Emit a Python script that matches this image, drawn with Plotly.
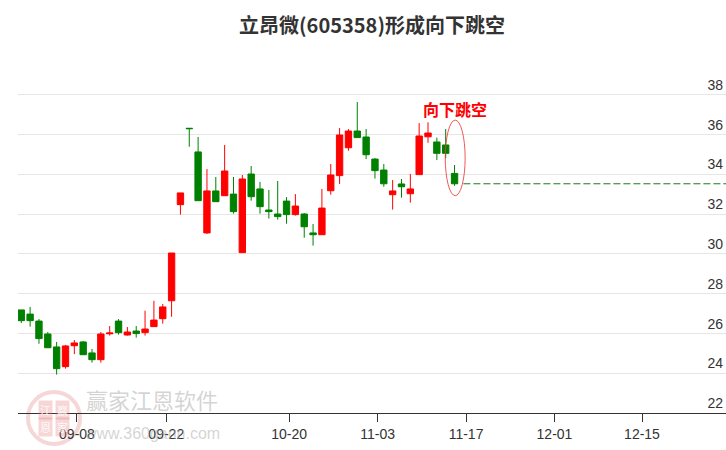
import plotly.graph_objects as go

# ---- data ----
open_ = [27.18, 26.97, 26.62, 25.97, 25.32, 24.33, 25.38, 25.57, 25.02, 24.68,
         25.98, 26.62, 25.92, 26.12, 26.04, 26.34, 26.74, 27.64, 32.47, 36.31,
         35.12, 31.05, 33.16, 32.92, 33.00, 30.06, 34.01, 33.26, 32.20, 32.00,
         32.65, 31.97, 32.00, 31.05, 30.96, 33.17, 33.93, 35.33, 36.17, 35.87,
         34.76, 34.21, 32.97, 33.51, 33.02, 33.98, 35.88, 35.62, 35.47, 34.04]
high = [27.18, 27.33, 26.72, 26.07, 25.57, 25.42, 25.67, 25.62, 25.22, 26.07,
        26.37, 26.72, 26.32, 26.37, 27.14, 27.64, 27.48, 30.04, 33.06, 36.31,
        35.87, 34.26, 33.86, 35.47, 33.86, 33.96, 34.41, 33.61, 33.21, 33.66,
        32.85, 33.00, 32.05, 31.50, 33.26, 34.51, 36.32, 36.27, 37.63, 36.27,
        34.81, 34.51, 33.71, 33.76, 34.01, 36.57, 36.61, 35.84, 36.27, 34.46]
low = [26.52, 26.34, 25.48, 25.28, 23.93, 24.23, 24.96, 24.93, 24.53, 24.53,
       25.89, 25.94, 25.89, 25.79, 25.89, 26.34, 26.49, 26.84, 31.97, 35.38,
       32.67, 31.00, 32.62, 32.92, 32.02, 30.06, 32.67, 32.02, 31.77, 31.72,
       31.51, 31.92, 30.81, 30.41, 30.96, 32.97, 33.51, 35.18, 35.84, 34.76,
       33.78, 33.37, 32.22, 32.82, 32.57, 33.98, 35.58, 34.71, 34.80, 33.42]
close = [26.64, 26.64, 25.74, 25.28, 24.23, 25.37, 25.52, 24.93, 24.68, 25.97,
         26.02, 26.04, 26.07, 25.99, 26.22, 26.67, 27.33, 30.04, 33.06, 36.29,
         32.67, 33.16, 32.62, 34.16, 32.12, 33.76, 32.87, 32.37, 32.12, 31.87,
         31.97, 32.40, 31.36, 30.96, 32.30, 33.96, 35.97, 36.17, 35.84, 34.98,
         34.18, 33.52, 33.16, 33.37, 33.26, 35.92, 36.07, 35.05, 35.05, 33.52]

tick_labels = ["09-08", "09-22", "10-20", "11-03", "11-17", "12-01", "12-15"]
tick_pos = [6.3, 16.4, 30.3, 40.3, 50.3, 60.3, 70.2]

title_text = "立昂微(605358)形成向下跳空"
signal_text = "向下跳空"

idx = list(range(len(close)))
last = idx[-1]
x_max = 79.7

RED = "#FF0000"
GREEN = "#008000"
AXFONT = dict(family="Liberation Sans Narrow, Arial Narrow, Arial, sans-serif", size=14, color="#333333")


def px_x(px):
    return (px - 18) / 708


def px_y(py):
    return (413 - py) / 353


fig = go.Figure()
fig.add_trace(go.Candlestick(
    x=idx, open=open_, high=high, low=low, close=close,
    increasing=dict(line=dict(color=RED, width=1), fillcolor=RED),
    decreasing=dict(line=dict(color=GREEN, width=1), fillcolor=GREEN),
    showlegend=False, hoverinfo="skip",
))
# dashed reference line at last close
fig.add_trace(go.Scatter(
    x=[last + 1, x_max], y=[close[-1], close[-1]], mode="lines",
    line=dict(color="#1a7a1a", width=1, dash="7px,3px"),
    showlegend=False, hoverinfo="skip",
))

shapes = [
    # ellipse around the last candle
    dict(type="circle", xref="x", yref="y",
         x0=last - 1.05, x1=last + 1.2, y0=32.92, y1=36.72,
         line=dict(color="rgba(235,60,60,0.85)", width=1)),
    # watermark logo circle
    dict(type="circle", xref="paper", yref="paper",
         x0=px_x(28), x1=px_x(80), y0=px_y(444), y1=px_y(392),
         line=dict(color="rgba(225,140,140,0.35)", width=4), layer="below"),
]

annotations = [
    dict(text=signal_text, x=last, y=37.28, xref="x", yref="y",
         showarrow=False, xanchor="center", yanchor="middle",
         font=dict(family="Noto Sans CJK SC", size=16, color=RED, weight="bold")),
    dict(text="赢家江恩软件", x=px_x(152), y=px_y(399),
         xref="paper", yref="paper", showarrow=False, xanchor="center", yanchor="middle",
         font=dict(family="Noto Sans CJK SC", size=22, color="rgba(170,170,170,0.5)")),
    dict(text="www.360gann.com", x=px_x(152), y=px_y(433),
         xref="paper", yref="paper", showarrow=False, xanchor="center", yanchor="middle",
         font=dict(family="Arial, sans-serif", size=16, color="rgba(170,170,170,0.5)")),
]
for ch, px, py in [("江", 45, 410), ("赢", 62, 410), ("恩", 45, 427), ("家", 62, 427)]:
    annotations.append(dict(
        text=ch, x=px_x(px), y=px_y(py), xref="paper", yref="paper",
        showarrow=False, xanchor="center", yanchor="middle",
        bgcolor="rgba(225,120,120,0.30)", borderpad=1,
        font=dict(family="Noto Sans CJK SC", size=11, color="rgba(255,255,255,0.9)")))

fig.update_layout(
    width=726, height=450,
    margin=dict(l=18, r=0, t=60, b=37),
    paper_bgcolor="white", plot_bgcolor="white",
    title=dict(text=title_text, x=372 / 726, xanchor="center", y=1 - 26 / 450, yanchor="middle",
               font=dict(family="Noto Sans CJK SC", size=20, color="#333333", weight="bold")),
    boxgap=0.2, boxgroupgap=0.1,
    shapes=shapes, annotations=annotations,
    xaxis=dict(range=[-0.37, x_max], rangeslider=dict(visible=False),
               tickmode="array", tickvals=tick_pos, ticktext=tick_labels,
               showgrid=False, zeroline=False, showline=True, linecolor="#333333", linewidth=1,
               ticks="outside", ticklen=8, tickcolor="#333333", tickfont=AXFONT),
    yaxis=dict(range=[22, 39.74], side="right", tick0=22, dtick=2,
               ticklabelposition="inside top", showgrid=True, gridcolor="#e6e6e6", gridwidth=1,
               zeroline=False, showline=False, ticks="", tickfont=AXFONT),
)

fig.write_html("out.html", config={"displayModeBar": False},
               post_script="document.body.style.margin='0px';document.body.style.overflow='hidden';")
